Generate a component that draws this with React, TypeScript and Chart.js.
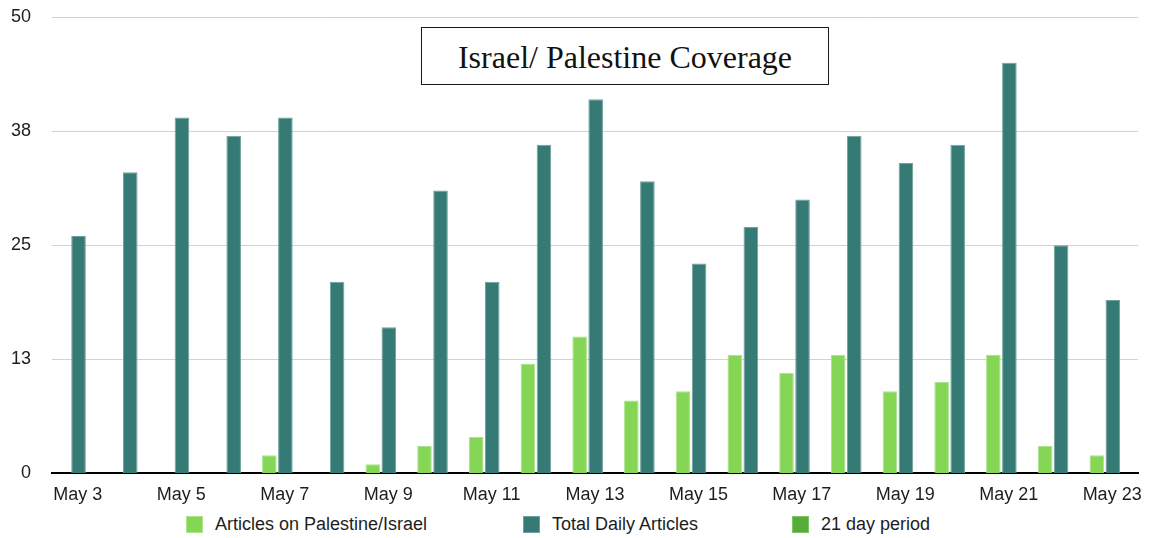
import { useEffect, useRef } from "react";
import { Chart, registerables } from "chart.js";

Chart.register(...registerables);

// Days covered by the survey
const days = [
  "May 3", "May 4", "May 5", "May 6", "May 7", "May 8", "May 9",
  "May 10", "May 11", "May 12", "May 13", "May 14", "May 15", "May 16",
  "May 17", "May 18", "May 19", "May 20", "May 21", "May 22", "May 23",
];

// Articles about Palestine/Israel per day
const palestineArticles = [0, 0, 0, 0, 2, 0, 1, 3, 4, 12, 15, 8, 9, 13, 11, 13, 9, 10, 13, 3, 2];

// All articles published per day
const totalArticles = [26, 33, 39, 37, 39, 21, 16, 31, 21, 36, 41, 32, 23, 27, 30, 37, 34, 36, 45, 25, 19];

// Marker series for the whole 21 day window (no bars of its own)
const periodSeries: number[] = [];

const yTickLabels = ["0", "13", "25", "38", "50"];

const seriesNames = ["Articles on Palestine/Israel", "Total Daily Articles", "21 day period"];
const seriesColors = ["#84d654", "#367a75", "#55ad37"];
const seriesEdges = ["#a9e38c", "#6fa29d", "#7cc663"];

const chartTitle = "Israel/ Palestine Coverage";

const SANS = '"Liberation Sans", Arial, Helvetica, sans-serif';
const SERIF = '"Liberation Serif", "Times New Roman", Times, serif';
const TEXT = "#1d1d1d";

// Horizontal placement of the legend entries (px from the left of the frame)
const legendLefts = [178, 515, 784];

export default function App() {
  const canvasRef = useRef<HTMLCanvasElement | null>(null);

  useEffect(() => {
    const canvas = canvasRef.current;
    if (!canvas) return;

    const toPoints = (values: number[]) => values.map((y, x) => ({ x, y }));
    const barStyle = (i: number) => ({
      label: seriesNames[i],
      backgroundColor: seriesColors[i],
      borderColor: seriesEdges[i],
      borderWidth: 1,
      borderSkipped: "start" as const,
      xAxisID: "xb",
      categoryPercentage: 0.62,
      barPercentage: 0.91,
    });

    const chart = new Chart(canvas, {
      type: "bar",
      data: {
        labels: days,
        datasets: [
          { ...barStyle(0), data: toPoints(palestineArticles) },
          { ...barStyle(1), data: toPoints(totalArticles) },
          { ...barStyle(2), data: toPoints(periodSeries), grouped: false },
        ],
      },
      options: {
        animation: false,
        responsive: false,
        maintainAspectRatio: false,
        layout: { padding: { top: 9, right: 8, left: 0, bottom: 0 } },
        plugins: {
          legend: { display: false },
          tooltip: { enabled: false },
          title: { display: false },
        },
        scales: {
          x: {
            type: "category",
            offset: true,
            grid: { display: false, drawTicks: true, tickLength: 11 },
            border: { display: true, color: "#000000", width: 2 },
            ticks: {
              autoSkip: false,
              maxRotation: 0,
              padding: 0,
              color: TEXT,
              font: { family: SANS, size: 18 },
              callback: (_v: any, i: number) => (i % 2 === 0 ? days[i] : ""),
            },
          },
          xb: {
            type: "linear",
            display: false,
            offset: false,
            grid: { offset: false },
            min: -0.358,
            max: 20.642,
          },
          y: {
            min: 0,
            max: 50,
            grid: {
              color: "#d2d2d2",
              lineWidth: 1,
              drawTicks: true,
              tickLength: 21,
              tickColor: "rgba(0,0,0,0)",
            },
            border: { display: false },
            ticks: {
              stepSize: 12.5,
              padding: 0,
              color: TEXT,
              font: { family: SANS, size: 18, lineHeight: 1 },
              callback: (_v: any, i: number) => yTickLabels[i],
            },
            afterFit: (scale: any) => {
              scale.width = 44;
            },
          },
        },
      } as any,
    });

    return () => chart.destroy();
  }, []);

  return (
    <div style={{ position: "relative", width: 1138, height: 530, background: "#ffffff" }}>
      <canvas ref={canvasRef} width={1138} height={498} style={{ display: "block" }} />
      <div
        style={{
          position: "absolute",
          left: 413,
          top: 19,
          width: 408,
          height: 58,
          boxSizing: "border-box",
          border: "1.5px solid #1a1a1a",
          background: "#ffffff",
          fontFamily: SERIF,
          fontSize: 32,
          lineHeight: "58px",
          textAlign: "center",
          color: "#111111",
          whiteSpace: "nowrap",
          overflow: "visible",
        }}
      >
        {chartTitle}
      </div>
      {seriesNames.map((name, i) => (
        <div
          key={name}
          style={{
            position: "absolute",
            left: legendLefts[i],
            top: 508,
            display: "flex",
            alignItems: "flex-start",
            fontFamily: SANS,
            fontSize: 18,
            lineHeight: "17px",
            color: TEXT,
            whiteSpace: "nowrap",
          }}
        >
          <span
            style={{
              display: "inline-block",
              width: 17,
              height: 17,
              boxSizing: "border-box",
              background: seriesColors[i],
              border: `1px solid ${seriesEdges[i]}`,
              marginRight: 12,
            }}
          />
          <span>{name}</span>
        </div>
      ))}
    </div>
  );
}
